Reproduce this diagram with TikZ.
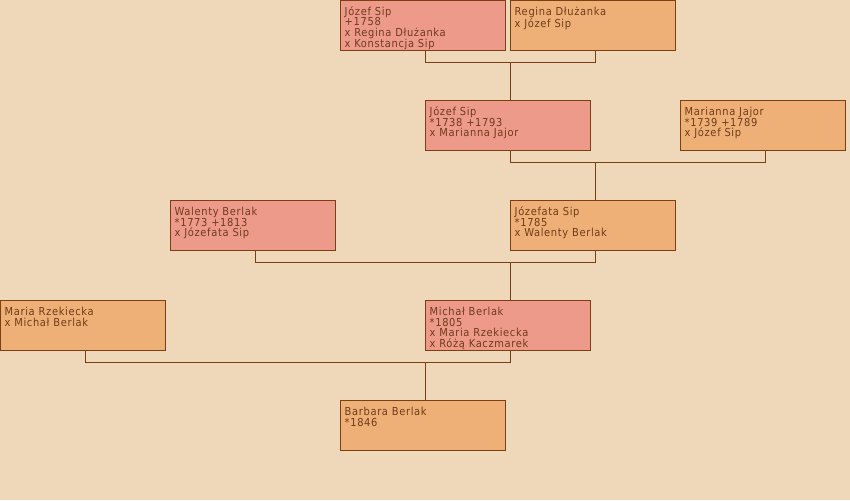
\documentclass[tikz,border=0pt]{standalone}
\usepackage{fontspec}
\setmainfont[LetterSpace=6]{DejaVu Sans Condensed}
\usetikzlibrary{calc}
\definecolor{bgc}{HTML}{EED8B9}
\definecolor{malec}{HTML}{EE9A8A}
\definecolor{femalec}{HTML}{EEB077}
\definecolor{edgec}{HTML}{7A3F12}
\definecolor{textc}{HTML}{6E3C1A}
\tikzset{
  person/.style={draw=edgec, line width=1pt, minimum width=165pt, minimum height=50pt, inner sep=0pt, outer sep=0pt, anchor=north west},
  male/.style={person, fill=malec},
  female/.style={person, fill=femalec},
  txt/.style={anchor=north west, inner sep=0pt, align=left, text=textc, font=\fontsize{11}{10.8}\selectfont},
  link/.style={draw=edgec, line width=1pt}
}
\newcommand\pbox[5]{%
  \node[#4] (#1) at (#2,#3) {};
  \node[txt] (#1-txt) at (#2+4,#3+3.5) {\rule{0pt}{11pt}#5};
  \coordinate (#1-t) at (#2+85,#3);
  \coordinate (#1-b) at (#2+85,#3+50);
}
\newcommand\couple[3]{%
  \draw[link] (#1-b) -- ++(0,12) coordinate (#1-h) -| (#2-b);
  \draw[link] (#3-t) -- (#3-t |- #1-h);
}
\begin{document}
\begin{tikzpicture}[x=1pt,y=-1pt]
\fill[bgc] (0,0) rectangle (850,500);
\useasboundingbox (0,0) rectangle (850,500);
\pbox{a}{340.5}{0.5}{male}{Józef Sip\\+1758\\x Regina Dłużanka\\x Konstancja Sip}
\pbox{b}{510.5}{0.5}{female}{Regina Dłużanka\\x Józef Sip}
\pbox{c}{425.5}{100.5}{male}{Józef Sip\\*1738 +1793\\x Marianna Jajor}
\pbox{d}{680.5}{100.5}{female}{Marianna Jajor\\*1739 +1789\\x Józef Sip}
\pbox{e}{170.5}{200.5}{male}{Walenty Berlak\\*1773 +1813\\x Józefata Sip}
\pbox{f}{510.5}{200.5}{female}{Józefata Sip\\*1785\\x Walenty Berlak}
\pbox{g}{0.5}{300.5}{female}{Maria Rzekiecka\\x Michał Berlak}
\pbox{h}{425.5}{300.5}{male}{Michał Berlak\\*1805\\x Maria Rzekiecka\\x Różą Kaczmarek}
\pbox{i}{340.5}{400.5}{female}{Barbara Berlak\\*1846}
\couple{a}{b}{c}
\couple{c}{d}{f}
\couple{e}{f}{h}
\couple{g}{h}{i}
\end{tikzpicture}
\end{document}
